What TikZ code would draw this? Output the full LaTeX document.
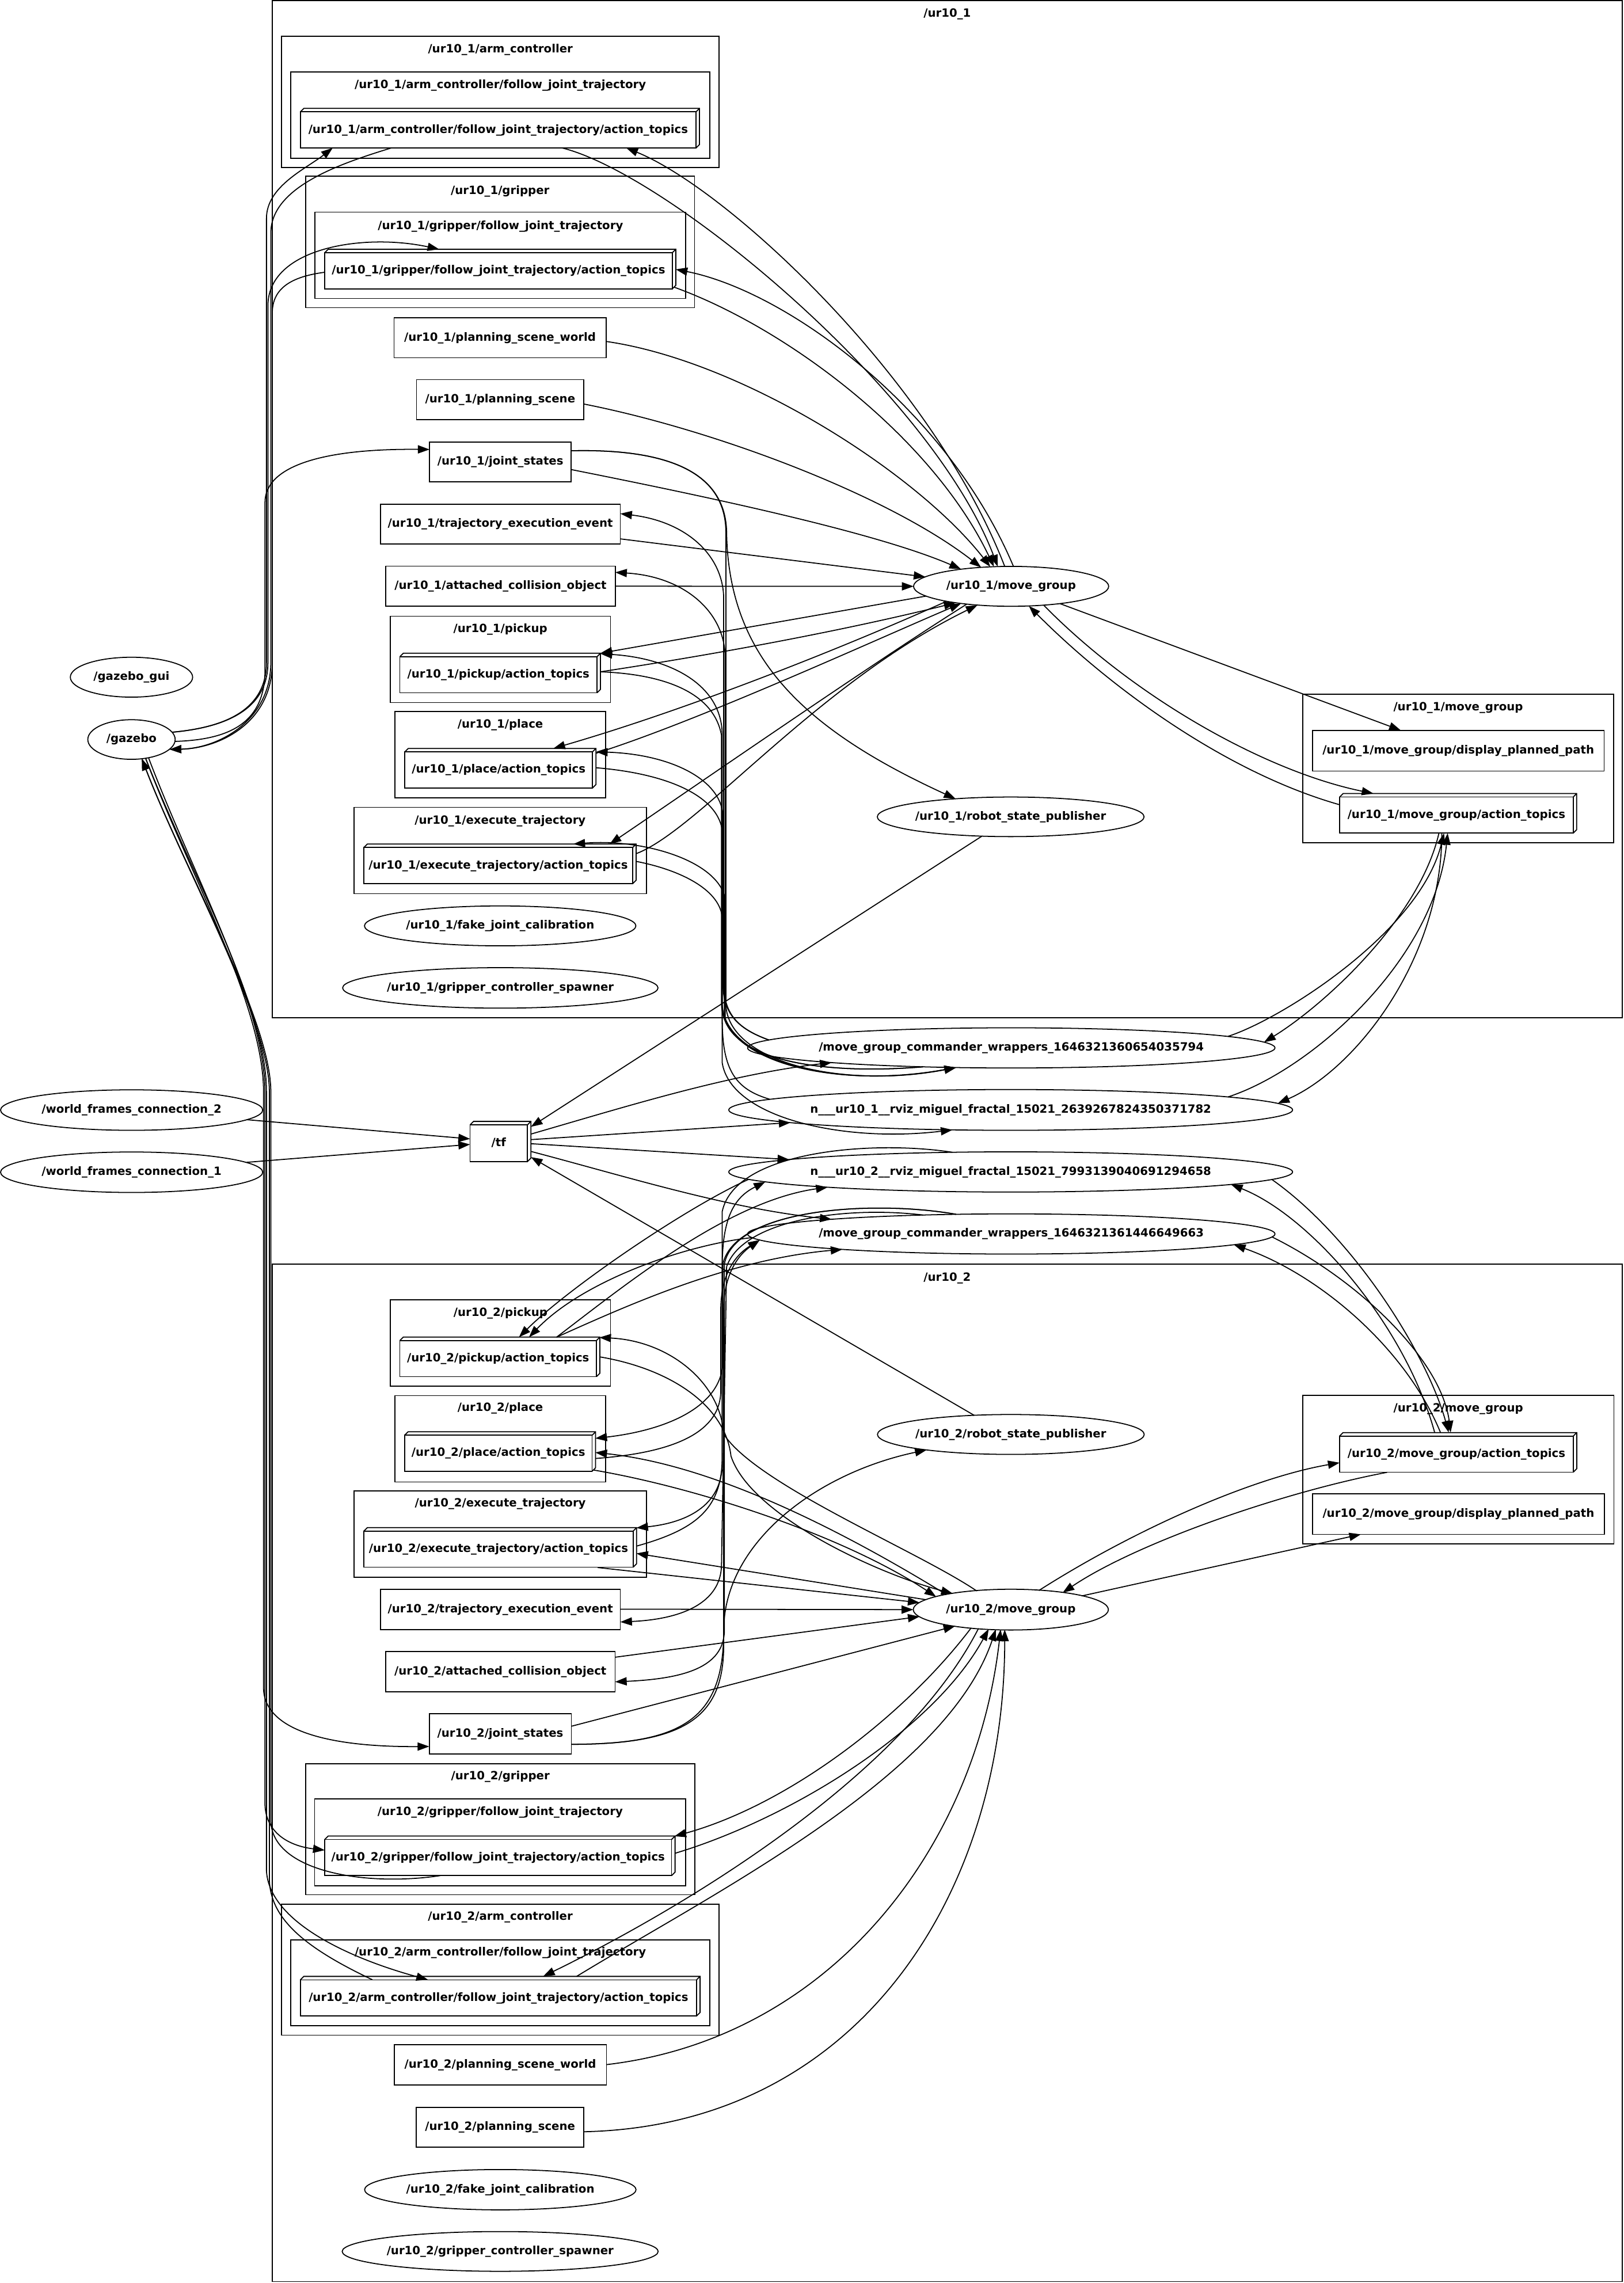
\documentclass[tikz,border=0pt]{standalone}
\usepackage{fontspec}
\setmainfont{DejaVu Sans}
\usetikzlibrary{arrows.meta,shapes.geometric}
\newcommand\tdbox[1]{\draw[ln] (#1.north west) -- ++(2.4,-2.4) -- ([shift={(2.4,-2.4)}]#1.north east) -- ([shift={(2.4,-2.4)}]#1.south east) -- (#1.south east) (#1.north east) -- ++(2.4,-2.4);}
\tikzset{
  ln/.style={line width=0.7pt},
  lbl/.style={font=\fontsize{7.8pt}{9pt}\selectfont\bfseries, inner sep=0pt, outer sep=0pt, text height=5.9pt, text depth=1.7pt},
  topic/.style={lbl, ln, draw, rectangle, minimum height=27.5pt},
  act/.style={lbl, ln, draw, rectangle, minimum height=24.8pt},
  nd/.style={lbl, ln, draw, ellipse},
  clus/.style={ln, draw, rectangle, inner sep=0pt, outer sep=0pt},
  e/.style={ln, -{Triangle[length=8pt,width=5.6pt]}},
}
\begin{document}
\begin{tikzpicture}[x=1pt,y=-1pt]
\useasboundingbox (0,0) rectangle (1115,1568);
% ---------------- clusters ----------------
\node[clus, minimum width=927pt, minimum height=698.5pt] (k1) at (650.5,349.75) {};
\node[lbl] (k1l) at (650.5,9.5) {/ur10\_1};
\node[clus, minimum width=300.5pt, minimum height=90.2pt] (kac1) at (343.65,70) {};
\node[lbl] (kac1l) at (343.65,33.9) {/ur10\_1/arm\_controller};
\node[clus, minimum width=287.9pt, minimum height=59.3pt] (kac1f) at (343.65,79.05) {};
\node[lbl] (kac1fl) at (343.65,58.6) {/ur10\_1/arm\_controller/follow\_joint\_trajectory};
\node[clus, minimum width=267pt, minimum height=90.2pt] (kgr1) at (343.5,166.2) {};
\node[lbl] (kgr1l) at (343.5,131.2) {/ur10\_1/gripper};
\node[clus, minimum width=254.6pt, minimum height=59.3pt] (kgr1f) at (343.7,175.35) {};
\node[lbl] (kgr1fl) at (343.7,155.3) {/ur10\_1/gripper/follow\_joint\_trajectory};
\node[clus, minimum width=151.3pt, minimum height=59.3pt] (kpk1) at (343.65,452.85) {};
\node[lbl] (kpk1l) at (343.65,432.2) {/ur10\_1/pickup};
\node[clus, minimum width=144.8pt, minimum height=59.3pt] (kpl1) at (343.6,518.45) {};
\node[lbl] (kpl1l) at (343.6,498) {/ur10\_1/place};
\node[clus, minimum width=201pt, minimum height=59.3pt] (kex1) at (343.5,584.15) {};
\node[lbl] (kex1l) at (343.5,563.9) {/ur10\_1/execute\_trajectory};
\node[clus, minimum width=213.7pt, minimum height=101.9pt] (kmg1) at (1001.45,527.85) {};
\node[lbl] (kmg1l) at (1001.45,486.1) {/ur10\_1/move\_group};
\node[clus, minimum width=927pt, minimum height=698.8pt] (k2) at (650.5,1217.6) {};
\node[lbl] (k2l) at (650.5,877.7) {/ur10\_2};
\node[clus, minimum width=151.1pt, minimum height=59.3pt] (kpk2) at (343.75,922.45) {};
\node[lbl] (kpk2l) at (343.75,901.9) {/ur10\_2/pickup};
\node[clus, minimum width=144.8pt, minimum height=59.3pt] (kpl2) at (343.6,988.15) {};
\node[lbl] (kpl2l) at (343.6,967.3) {/ur10\_2/place};
\node[clus, minimum width=200.8pt, minimum height=59.4pt] (kex2) at (343.6,1053.6) {};
\node[lbl] (kex2l) at (343.6,1032.8) {/ur10\_2/execute\_trajectory};
\node[clus, minimum width=267.3pt, minimum height=89.9pt] (kgr2) at (343.65,1256.35) {};
\node[lbl] (kgr2l) at (343.65,1220.3) {/ur10\_2/gripper};
\node[clus, minimum width=254.8pt, minimum height=59.6pt] (kgr2f) at (343.5,1265.3) {};
\node[lbl] (kgr2fl) at (343.5,1244.8) {/ur10\_2/gripper/follow\_joint\_trajectory};
\node[clus, minimum width=300.6pt, minimum height=90pt] (kac2) at (343.6,1352.8) {};
\node[lbl] (kac2l) at (343.6,1316.8) {/ur10\_2/arm\_controller};
\node[clus, minimum width=287.8pt, minimum height=59.1pt] (kac2f) at (343.6,1361.85) {};
\node[lbl] (kac2fl) at (343.6,1341.3) {/ur10\_2/arm\_controller/follow\_joint\_trajectory};
\node[clus, minimum width=213.8pt, minimum height=102.2pt] (kmg2) at (1001.5,1009.3) {};
\node[lbl] (kmg2l) at (1001.5,967.7) {/ur10\_2/move\_group};
% ---------------- ellipse nodes ----------------
\node[nd, minimum width=84pt, minimum height=27.4pt] (gzgui) at (90.3,465.1) {\makebox[0pt]{/gazebo\_gui}};
\node[nd, minimum width=60pt, minimum height=27.2pt] (gazebo) at (90.3,507.9) {\makebox[0pt]{/gazebo}};
\node[nd, minimum width=180pt, minimum height=27.8pt] (wfc2) at (90.4,762.4) {\makebox[0pt]{/world\_frames\_connection\_2}};
\node[nd, minimum width=180pt, minimum height=27.8pt] (wfc1) at (90.4,805.1) {\makebox[0pt]{/world\_frames\_connection\_1}};
\node[nd, minimum width=134pt, minimum height=27.4pt] (mg1) at (694.4,402.7) {\makebox[0pt]{/ur10\_1/move\_group}};
\node[nd, minimum width=183.2pt, minimum height=27.2pt] (rsp1) at (694.1,561) {\makebox[0pt]{/ur10\_1/robot\_state\_publisher}};
\node[nd, minimum width=186.4pt, minimum height=27.4pt] (fake1) at (343.5,635.9) {\makebox[0pt]{/ur10\_1/fake\_joint\_calibration}};
\node[nd, minimum width=216.6pt, minimum height=27.8pt] (gcs1) at (343.6,678.5) {\makebox[0pt]{/ur10\_1/gripper\_controller\_spawner}};
\node[nd, minimum width=362.2pt, minimum height=27.6pt] (mgcw1) at (694.5,719.7) {\makebox[0pt]{/move\_group\_commander\_wrappers\_1646321360654035794}};
\node[nd, minimum width=387.2pt, minimum height=28pt] (nr1) at (694.1,762.3) {\makebox[0pt]{n\_\_\_ur10\_1\_\_rviz\_miguel\_fractal\_15021\_2639267824350371782}};
\node[nd, minimum width=387.2pt, minimum height=27.6pt] (nr2) at (694.1,804.9) {\makebox[0pt]{n\_\_\_ur10\_2\_\_rviz\_miguel\_fractal\_15021\_7993139040691294658}};
\node[nd, minimum width=362.2pt, minimum height=27.6pt] (mgcw2) at (694.5,847.5) {\makebox[0pt]{/move\_group\_commander\_wrappers\_1646321361446649663}};
\node[nd, minimum width=183.2pt, minimum height=27.4pt] (rsp2) at (694.2,985.2) {\makebox[0pt]{/ur10\_2/robot\_state\_publisher}};
\node[nd, minimum width=134pt, minimum height=28pt] (mg2) at (694.2,1105.5) {\makebox[0pt]{/ur10\_2/move\_group}};
\node[nd, minimum width=186.4pt, minimum height=27.7pt] (fake2) at (343.6,1503.9) {\makebox[0pt]{/ur10\_2/fake\_joint\_calibration}};
\node[nd, minimum width=217pt, minimum height=27.3pt] (gcs2) at (343.5,1546.3) {\makebox[0pt]{/ur10\_2/gripper\_controller\_spawner}};
% ---------------- topic boxes ----------------
\node[topic, minimum width=145.6pt] (psw1) at (343.4,232) {/ur10\_1/planning\_scene\_world};
\node[topic, minimum width=115pt] (ps1) at (343.5,274.5) {/ur10\_1/planning\_scene};
\node[topic, minimum width=97.3pt] (js1) at (343.65,317.25) {/ur10\_1/joint\_states};
\node[topic, minimum width=164.8pt] (tee1) at (343.6,360) {/ur10\_1/trajectory\_execution\_event};
\node[topic, minimum width=157.5pt] (aco1) at (343.75,402.6) {/ur10\_1/attached\_collision\_object};
\node[topic, minimum width=200.4pt, minimum height=28pt] (dpp1) at (1001.5,515.6) {/ur10\_1/move\_group/display\_planned\_path};
\node[topic, minimum width=145.8pt] (psw2) at (343.6,1418.2) {/ur10\_2/planning\_scene\_world};
\node[topic, minimum width=115.1pt] (ps2) at (343.45,1461) {/ur10\_2/planning\_scene};
\node[topic, minimum width=97.6pt] (js2) at (343.6,1190.85) {/ur10\_2/joint\_states};
\node[topic, minimum width=164.7pt] (tee2) at (343.65,1105.45) {/ur10\_2/trajectory\_execution\_event};
\node[topic, minimum width=157.5pt] (aco2) at (343.65,1148.15) {/ur10\_2/attached\_collision\_object};
\node[topic, minimum width=200.4pt, minimum height=27.8pt] (dpp2) at (1001.6,1039.9) {/ur10\_2/move\_group/display\_planned\_path};
% ---------------- 3d boxes ----------------
\node[act, minimum width=271.7pt] (ac1) at (342.15,89.25) {/ur10\_1/arm\_controller/follow\_joint\_trajectory/action\_topics};
\node[act, minimum width=238.7pt] (gr1) at (342.35,186) {/ur10\_1/gripper/follow\_joint\_trajectory/action\_topics};
\node[act, minimum width=135.4pt] (pk1) at (342.3,463.4) {/ur10\_1/pickup/action\_topics};
\node[act, minimum width=128.9pt] (pl1) at (342.45,528.85) {/ur10\_1/place/action\_topics};
\node[act, minimum width=184.6pt] (ex1) at (342.2,594.5) {/ur10\_1/execute\_trajectory/action\_topics};
\node[act, minimum width=160.4pt] (mga1) at (1000.2,559.8) {/ur10\_1/move\_group/action\_topics};
\node[act, minimum width=39.4pt, minimum height=25.2pt] (tf) at (342.5,785.2) {/tf};
\node[act, minimum width=135pt] (pk2) at (342.1,933.1) {/ur10\_2/pickup/action\_topics};
\node[act, minimum width=128.7pt] (pl2) at (342.25,998.15) {/ur10\_2/place/action\_topics};
\node[act, minimum width=184.9pt] (ex2) at (342.35,1064) {/ur10\_2/execute\_trajectory/action\_topics};
\node[act, minimum width=238.2pt] (gr2) at (342.1,1275.75) {/ur10\_2/gripper/follow\_joint\_trajectory/action\_topics};
\node[act, minimum width=272.1pt] (ac2) at (342.35,1372.2) {/ur10\_2/arm\_controller/follow\_joint\_trajectory/action\_topics};
\node[act, minimum width=160.5pt] (mga2) at (1000.25,998.7) {/ur10\_2/move\_group/action\_topics};
\tdbox{ac1}\tdbox{gr1}\tdbox{pk1}\tdbox{pl1}\tdbox{ex1}\tdbox{mga1}\tdbox{tf}
\tdbox{pk2}\tdbox{pl2}\tdbox{ex2}\tdbox{gr2}\tdbox{ac2}\tdbox{mga2}
% ---------------- gazebo edges ----------------
\draw[e] ([shift={(27.9,-5)}]gazebo.center) .. controls (150,500) and (183,490) .. (183,455) -- (183,150) .. controls (183,128) and (210,116) .. ([shift={(-113.65,12.35)}]ac1.center);
\draw[e] ([shift={(-73.35,12.35)}]ac1.center) .. controls (235,112) and (186,128) .. (186,160) -- (186,455) .. controls (186,495) and (150,514) .. ([shift={(26.2,6.8)}]gazebo.center);
\draw[e] ([shift={(27.9,-5)}]gazebo.center) .. controls (150,500) and (184,490) .. (184,455) -- (184,210) .. controls (184,170) and (250,160) .. ([shift={(-40.75,-14.8)}]gr1.center);
\draw[e] ([shift={(-119.35,1)}]gr1.center) .. controls (200,190) and (187,198) .. (187,215) -- (187,455) .. controls (187,497) and (150,514) .. ([shift={(26.2,6.8)}]gazebo.center);
\draw[e] ([shift={(29.9,1.3)}]gazebo.center) .. controls (160,508) and (182,495) .. (182,460) -- (182,345) .. controls (182,320) and (222,308) .. ([shift={(-48.65,-8.55)}]js1.center);
\draw[e] ([shift={(9.7,12.9)}]gazebo.center) .. controls (130,600) and (181,690) .. (181,750) -- (181,1160) .. controls (182,1190) and (230,1200) .. ([shift={(-48.8,8.65)}]js2.center);
\draw[e] ([shift={(11.7,12.5)}]gazebo.center) .. controls (132,600) and (182,690) .. (182,750) -- (182,1240) .. controls (183,1260) and (200,1268) .. ([shift={(-119.1,-5.05)}]gr2.center);
\draw[e] ([shift={(9.7,12.9)}]gazebo.center) .. controls (131,600) and (183,690) .. (183,750) -- (183,1285) .. controls (185,1320) and (240,1345) .. ([shift={(-48.45,-12.5)}]ac2.center);
\draw[e] ([shift={(-39.8,12.45)}]gr2.center) .. controls (250,1296) and (186,1285) .. (186,1250) -- (186,750) .. controls (186,700) and (128,600) .. ([shift={(7.1,13.2)}]gazebo.center);
\draw[e] ([shift={(-86.65,-12.5)}]ac2.center) .. controls (210,1338) and (185,1318) .. (185,1290) -- (185,750) .. controls (185,700) and (128,600) .. ([shift={(7.1,13.2)}]gazebo.center);
% ---------------- tf edges ----------------
\draw[e] ([shift={(79,6.6)}]wfc2.center) -- ([shift={(-19.7,-3)}]tf.center);
\draw[e] ([shift={(79,-6.8)}]wfc1.center) -- ([shift={(-19.7,0.8)}]tf.center);
\draw[e] ([shift={(-19.8,13.3)}]rsp1.center) -- ([shift={(22.1,-11.3)}]tf.center);
\draw[e] ([shift={(-25.1,-13.1)}]rsp2.center) -- ([shift={(22.1,9.5)}]tf.center);
\draw[e] ([shift={(22.1,-6.3)}]tf.center) .. controls (430,760) and (500,738) .. ([shift={(-123.4,10.1)}]mgcw1.center);
\draw[e] ([shift={(22.1,-2.5)}]tf.center) -- ([shift={(-151.2,8.7)}]nr1.center);
\draw[e] ([shift={(22.1,0.3)}]tf.center) -- ([shift={(-152.1,-8.5)}]nr2.center);
\draw[e] ([shift={(22.1,5.6)}]tf.center) .. controls (430,808) and (500,830) .. ([shift={(-123.4,-10.1)}]mgcw2.center);
% ---------------- move_group 1 ----------------
\draw[e] ([shift={(72.8,2.5)}]psw1.center) .. controls (510,248) and (630,325) .. ([shift={(-14.3,-13.4)}]mg1.center);
\draw[e] ([shift={(57.5,3)}]ps1.center) .. controls (490,295) and (610,340) .. ([shift={(-20.6,-13)}]mg1.center);
\draw[e] ([shift={(48.65,5.25)}]js1.center) .. controls (480,340) and (600,365) .. ([shift={(-34.4,-11.8)}]mg1.center);
\draw[e] ([shift={(82.4,10.1)}]tee1.center) -- ([shift={(-58.9,-6.5)}]mg1.center);
\draw[e] ([shift={(78.75,0)}]aco1.center) -- ([shift={(-67,0)}]mg1.center);
\draw[e] ([shift={(43.85,12.35)}]ac1.center) .. controls (460,120) and (640,270) .. ([shift={(-9.2,-13.6)}]mg1.center);
\draw[e] ([shift={(-4.4,-13.7)}]mg1.center) .. controls (640,260) and (500,130) .. ([shift={(87.95,12.35)}]ac1.center);
\draw[e] ([shift={(120.5,11.2)}]gr1.center) .. controls (540,225) and (640,300) .. ([shift={(-11.8,-13.5)}]mg1.center);
\draw[e] ([shift={(1.6,-13.7)}]mg1.center) .. controls (650,280) and (540,200) .. ([shift={(121.75,-1)}]gr1.center);
\draw[e] ([shift={(-58.4,6.7)}]mg1.center) -- ([shift={(70.1,-14.8)}]pk1.center);
\draw[e] ([shift={(70.1,-2)}]pk1.center) .. controls (520,445) and (600,428) .. ([shift={(-38.2,11.3)}]mg1.center);
\draw[e] ([shift={(-44.4,10.3)}]mg1.center) .. controls (590,440) and (480,485) .. ([shift={(37.65,-14.85)}]pl1.center);
\draw[e] ([shift={(66.85,-11.5)}]pl1.center) .. controls (480,495) and (600,440) .. ([shift={(-34.4,11.8)}]mg1.center);
\draw[e] ([shift={(-30.4,12.2)}]mg1.center) .. controls (600,455) and (470,545) .. ([shift={(76.5,-14.8)}]ex1.center);
\draw[e] ([shift={(94.7,-8.2)}]ex1.center) .. controls (480,570) and (560,470) .. ([shift={(-23.1,12.9)}]mg1.center);
\draw[e] ([shift={(33.6,11.9)}]mg1.center) -- ([shift={(-39.5,-14)}]dpp1.center);
\draw[e] ([shift={(22.3,12.9)}]mg1.center) .. controls (780,480) and (870,530) .. ([shift={(-57,-14.8)}]mga1.center);
\draw[e] ([shift={(-80.2,-7.1)}]mga1.center) .. controls (840,530) and (760,470) .. ([shift={(12.2,13.5)}]mg1.center);
% ---------------- move_group/action_topics 1 ----------------
\draw[e] ([shift={(148.8,-7.9)}]mgcw1.center) .. controls (880,700) and (975,640) .. ([shift={(-8.5,12.4)}]mga1.center);
\draw[e] ([shift={(-12,12.4)}]mga1.center) .. controls (975,630) and (910,690) .. ([shift={(173.6,-3.9)}]mgcw1.center);
\draw[e] ([shift={(149.2,-8.9)}]nr1.center) .. controls (900,735) and (985,660) .. ([shift={(-6,12.4)}]mga1.center);
\draw[e] ([shift={(-10,12.4)}]mga1.center) .. controls (990,660) and (930,735) .. ([shift={(183.5,-4.5)}]nr1.center);
% ---------------- move_group/action_topics 2 ----------------
\draw[e] ([shift={(179.4,5.2)}]nr2.center) .. controls (930,850) and (980,930) .. ([shift={(-5.35,-14.9)}]mga2.center);
\draw[e] ([shift={(-15,-14.9)}]mga2.center) .. controls (965,910) and (900,835) .. ([shift={(151.3,8.6)}]nr2.center);
\draw[e] ([shift={(179,2)}]mgcw2.center) .. controls (935,880) and (990,935) .. ([shift={(-4,-14.9)}]mga2.center);
\draw[e] ([shift={(-11,-14.9)}]mga2.center) .. controls (965,925) and (905,875) .. ([shift={(152.9,7.4)}]mgcw2.center);
% ---------------- move_group 2 ----------------
\draw[e] ([shift={(82.35,-0.25)}]tee2.center) -- ([shift={(-67,0)}]mg2.center);
\draw[e] ([shift={(78.75,-9.95)}]aco2.center) -- ([shift={(-62.7,4.8)}]mg2.center);
\draw[e] ([shift={(48.8,-5.25)}]js2.center) -- ([shift={(-38.2,11.3)}]mg2.center);
\draw[e] ([shift={(68.15,12.6)}]ex2.center) -- ([shift={(-62.7,-4.8)}]mg2.center);
\draw[e] ([shift={(-58.2,-6.8)}]mg2.center) -- ([shift={(94.7,2.9)}]ex2.center);
\draw[e] ([shift={(-44.2,-10.3)}]mg2.center) .. controls (560,1040) and (480,1005) .. ([shift={(66.6,-0.55)}]pl2.center);
\draw[e] ([shift={(65.5,11.5)}]pl2.center) .. controls (480,1022) and (580,1055) .. ([shift={(-51.3,-8.8)}]mg2.center);
\draw[e] ([shift={(-27.2,12.5)}]mg2.center) .. controls (620,1180) and (540,1240) .. ([shift={(121.1,-14.6)}]gr2.center);
\draw[e] ([shift={(121.3,-2.85)}]gr2.center) .. controls (540,1250) and (640,1190) .. ([shift={(-15.2,13.3)}]mg2.center);
\draw[e] ([shift={(-22.2,12.9)}]mg2.center) .. controls (620,1220) and (470,1310) .. ([shift={(30.65,-14.8)}]ac2.center);
\draw[e] ([shift={(53.65,-14.8)}]ac2.center) .. controls (490,1300) and (650,1220) .. ([shift={(-10.3,13.5)}]mg2.center);
\draw[e] ([shift={(72.9,-0.2)}]psw2.center) .. controls (570,1400) and (670,1270) .. ([shift={(-7,13.6)}]mg2.center);
\draw[e] ([shift={(57.55,3.1)}]ps2.center) .. controls (590,1460) and (690,1300) .. ([shift={(-4.2,13.7)}]mg2.center);
\draw[e] ([shift={(19.2,-13.1)}]mg2.center) .. controls (780,1050) and (860,1015) .. ([shift={(-80.25,5.9)}]mga2.center);
\draw[e] ([shift={(-47.65,12.5)}]mga2.center) .. controls (880,1025) and (780,1060) .. ([shift={(35.6,-11.6)}]mg2.center);
\draw[e] ([shift={(48.7,-9.4)}]mg2.center) -- ([shift={(-67,13.9)}]dpp2.center);
\draw[e] ([shift={(-23.4,-12.8)}]mg2.center) .. controls (630,1065) and (520,1020) .. (497,985) .. controls (495,950) and (460,921) .. ([shift={(69.5,-14.5)}]pk2.center);
\draw[e] ([shift={(69.7,-1.2)}]pk2.center) .. controls (460,940) and (498,965) .. (502,1000) .. controls (515,1040) and (600,1080) .. ([shift={(-39.8,-11)}]mg2.center);
% ---------------- bundle ur10_2 ----------------
\draw[e] ([shift={(-37.9,-13.5)}]mgcw2.center) .. controls (600,824) and (505,830) .. (496.5,868) -- (496.5,935) .. controls (496,965) and (460,982) .. ([shift={(66.6,-10.25)}]pl2.center);
\draw[e] ([shift={(-40,-13.5)}]nr2.center) .. controls (600,783) and (505,790) .. (496,832) -- (496,1005) .. controls (496,1035) and (470,1046) .. ([shift={(94.7,-14.6)}]ex2.center);
\draw[e] ([shift={(-60.5,-13)}]mgcw2.center) .. controls (580,828) and (510,838) .. (499,870) -- (495.5,1075) .. controls (495,1100) and (470,1112) .. ([shift={(82.35,8.55)}]tee2.center);
\draw[e] ([shift={(-37.9,-13.5)}]mgcw2.center) .. controls (600,824) and (505,830) .. (497.5,868) -- (497.5,1120) .. controls (497,1145) and (470,1153) .. ([shift={(78.75,6.95)}]aco2.center);
\draw[e] ([shift={(66.6,3.55)}]pl2.center) .. controls (460,998) and (495,985) .. (495,955) -- (495,900) .. controls (495,875) and (505,862) .. ([shift={(-172.7,4.1)}]mgcw2.center);
\draw[e] ([shift={(94.7,-2.1)}]ex2.center) .. controls (480,1050) and (496,1035) .. (496,1000) -- (496,870) .. controls (496,835) and (505,822) .. ([shift={(-168.5,6.8)}]nr2.center);
\draw[e] ([shift={(48.8,7.15)}]js2.center) .. controls (470,1198) and (497,1180) .. (497,1130) -- (497,900) .. controls (497,875) and (507,862) .. ([shift={(-172.7,4.1)}]mgcw2.center);
\draw[e] ([shift={(48.8,7.15)}]js2.center) .. controls (470,1198) and (497,1180) .. (497,1120) .. controls (497,1060) and (560,1012) .. ([shift={(-57.8,10.6)}]rsp2.center);
% ---------------- pickup 2 direct ----------------
\draw[e] ([shift={(40.1,-14.7)}]pk2.center) .. controls (430,897) and (500,865) .. ([shift={(-116,10.6)}]mgcw2.center);
\draw[e] ([shift={(40.1,-14.7)}]pk2.center) .. controls (430,882) and (500,825) .. ([shift={(-125.7,10.5)}]nr2.center);
\draw[e] ([shift={(-180,5.1)}]nr2.center) .. controls (470,830) and (390,885) .. ([shift={(14.3,-14.7)}]pk2.center);
\draw[e] ([shift={(-178,2.5)}]mgcw2.center) .. controls (470,855) and (400,880) .. ([shift={(21.2,-14.7)}]pk2.center);
% ---------------- bundle ur10_1 ----------------
\draw[e] ([shift={(-166.4,-5.4)}]mgcw1.center) .. controls (505,706) and (497,695) .. (497,675) -- (497,410) .. controls (496,380) and (470,358) .. ([shift={(82.4,-7.2)}]tee1.center);
\draw[e] ([shift={(-60.5,13)}]mgcw1.center) .. controls (570,738) and (508,730) .. (498,700) -- (498,450) .. controls (497,420) and (470,396) .. ([shift={(78.75,-9.5)}]aco1.center);
\draw[e] ([shift={(-165.4,-7.3)}]nr1.center) .. controls (505,748) and (496,735) .. (496,700) -- (496,505) .. controls (496,470) and (460,452) .. ([shift={(70.1,-14.4)}]pk1.center);
\draw[e] ([shift={(-166.4,-5.4)}]mgcw1.center) .. controls (505,706) and (496.5,695) .. (496.5,675) -- (496.5,560) .. controls (495,535) and (460,518) .. ([shift={(66.85,-12.5)}]pl1.center);
\draw[e] ([shift={(-60.5,13)}]mgcw1.center) .. controls (570,738) and (508,730) .. (497.5,700) -- (497.5,615) .. controls (490,590) and (440,576) .. ([shift={(51.6,-14.8)}]ex1.center);
\draw[e] ([shift={(48.65,-7.65)}]js1.center) .. controls (460,308) and (498,325) .. (498.5,365) -- (498.5,690) .. controls (500,730) and (580,748) .. ([shift={(-37.9,13.5)}]mgcw1.center);
\draw[e] ([shift={(70.1,-2)}]pk1.center) .. controls (455,463) and (490,475) .. (495.5,505) -- (495.5,690) .. controls (497,730) and (575,748) .. ([shift={(-37.9,13.5)}]mgcw1.center);
\draw[e] ([shift={(66.85,-1.55)}]pl1.center) .. controls (455,531) and (492,545) .. (496,570) -- (496,690) .. controls (498,730) and (578,748) .. ([shift={(-37.9,13.5)}]mgcw1.center);
\draw[e] ([shift={(94.6,-2.9)}]ex1.center) .. controls (465,597) and (494,610) .. (496,630) -- (496,730) .. controls (502,768) and (580,785) .. ([shift={(-40,13.7)}]nr1.center);
\draw[e] ([shift={(48.65,-7.65)}]js1.center) .. controls (460,308) and (498,325) .. (499,365) .. controls (500,450) and (550,500) .. ([shift={(-37.9,-12.4)}]rsp1.center);
\end{tikzpicture}
\end{document}
